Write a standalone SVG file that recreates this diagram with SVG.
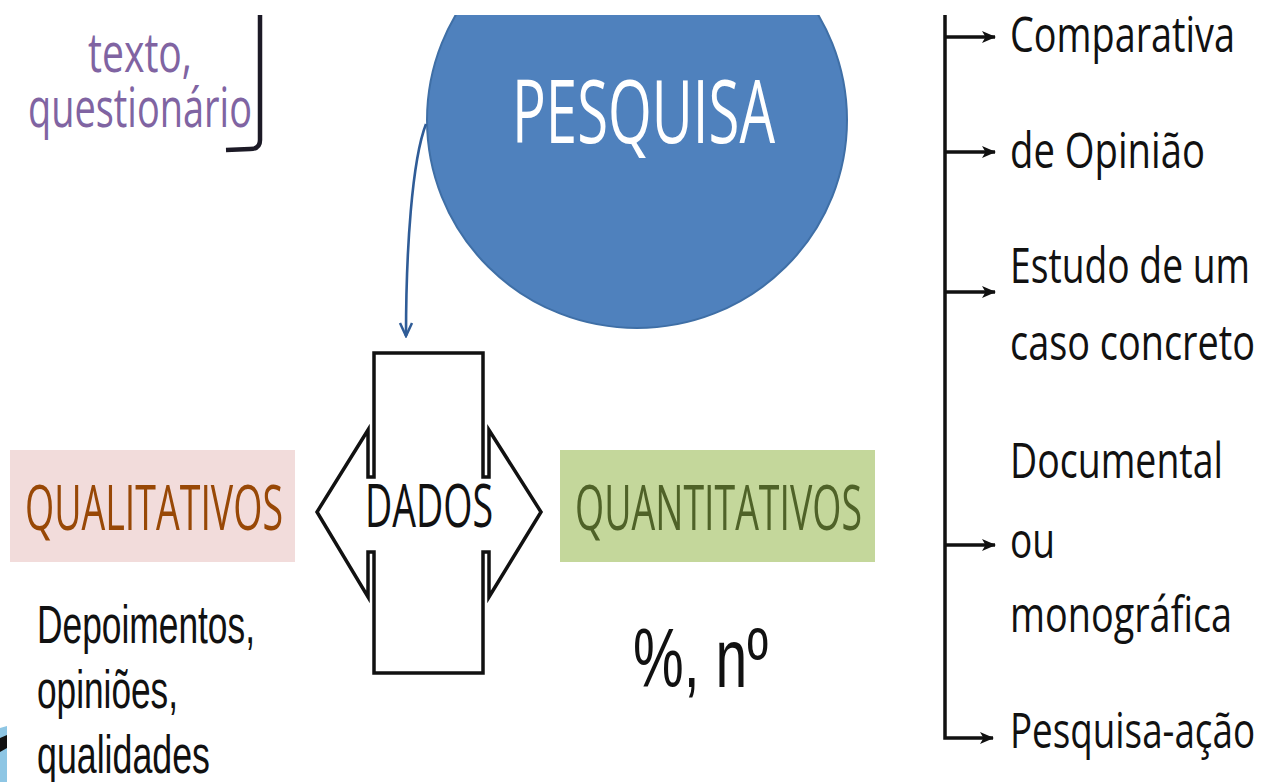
<svg xmlns="http://www.w3.org/2000/svg" width="1268" height="782" viewBox="0 0 1268 782">
<defs>
<style>
.cal{font-family:"Open Sans","Liberation Sans",sans-serif}
.ari{font-family:"Liberation Sans",Arial,sans-serif}
.lst{font-size:50px;fill:#111111;font-weight:500}
.conn{fill:none;stroke:#111111;stroke-width:3.5}
</style>
<clipPath id="top"><rect x="0" y="15" width="1268" height="767"/></clipPath>
<marker id="ah" viewBox="0 0 14 14" refX="13" refY="7" markerWidth="14" markerHeight="14" markerUnits="userSpaceOnUse" orient="auto">
<path d="M0,1 L14,7 L0,13 L3.5,7 Z" fill="#111111"/>
</marker>
<marker id="bh" viewBox="0 0 16 16" refX="14" refY="8" markerWidth="16" markerHeight="16" markerUnits="userSpaceOnUse" orient="auto">
<path d="M1,2 L14,8 L1,14" fill="none" stroke="#2F5C97" stroke-width="2.5"/>
</marker>
</defs>
<rect width="1268" height="782" fill="#ffffff"/>
<g id="top-left-note">
<text class="cal" x="140" y="72" font-size="54" fill="#8064A2" text-anchor="middle" textLength="104" lengthAdjust="spacingAndGlyphs">texto,</text>
<text class="cal" x="28" y="127" font-size="54" fill="#8064A2" textLength="224" lengthAdjust="spacingAndGlyphs">questionário</text>
<path d="M260,15 L260,140 Q260,149 250,149 L226,150" fill="none" stroke="#1c1a26" stroke-width="4.5"/>
</g>
<g id="pesquisa">
<ellipse cx="637" cy="120" rx="210" ry="208" fill="#4F81BD" stroke="#3F6FA6" stroke-width="2" clip-path="url(#top)"/>
<text class="cal" x="512" y="143" font-size="88" fill="#ffffff" textLength="263" lengthAdjust="spacingAndGlyphs">PESQUISA</text>
</g>
<g id="connectors">
<path d="M426,124 C412,160 406,250 406,336" fill="none" stroke="#2F5C97" stroke-width="2.6" marker-end="url(#bh)"/>
<path class="conn" d="M945,15 L945,738 L993,738" marker-end="url(#ah)"/>
<line class="conn" x1="945" y1="37" x2="995" y2="37" marker-end="url(#ah)"/>
<line class="conn" x1="945" y1="152" x2="995" y2="152" marker-end="url(#ah)"/>
<line class="conn" x1="945" y1="292" x2="995" y2="292" marker-end="url(#ah)"/>
<line class="conn" x1="945" y1="545" x2="995" y2="545" marker-end="url(#ah)"/>
</g>
<g id="tipos">
<text class="cal lst" x="1010" y="52" textLength="225" lengthAdjust="spacingAndGlyphs">Comparativa</text>
<text class="cal lst" x="1010" y="168" textLength="195" lengthAdjust="spacingAndGlyphs">de Opinião</text>
<text class="cal lst" x="1010" y="283" textLength="240" lengthAdjust="spacingAndGlyphs">Estudo de um</text>
<text class="cal lst" x="1010" y="360" textLength="245" lengthAdjust="spacingAndGlyphs">caso concreto</text>
<text class="cal lst" x="1010" y="478" textLength="213" lengthAdjust="spacingAndGlyphs">Documental</text>
<text class="cal lst" x="1010" y="558" textLength="45" lengthAdjust="spacingAndGlyphs">ou</text>
<text class="cal lst" x="1010" y="632" textLength="222" lengthAdjust="spacingAndGlyphs">monográfica</text>
<text class="cal lst" x="1010" y="748" textLength="245" lengthAdjust="spacingAndGlyphs">Pesquisa-ação</text>
</g>
<g id="dados">
<path d="M374,353 L483,353 L483,477 L489,477 L489,430 L541,512 L489,597 L489,552 L483,552 L483,673 L374,673 L374,552 L368,552 L368,597 L317,512 L368,430 L368,477 L374,477 Z" fill="#ffffff" stroke="#111111" stroke-width="3.5" stroke-linejoin="miter"/>
<text class="cal" x="429" y="527" font-size="60" fill="#111111" text-anchor="middle" textLength="128" lengthAdjust="spacingAndGlyphs">DADOS</text>
</g>
<g id="qualitativos">
<rect x="10" y="450" width="285" height="112" fill="#F2DCDB"/>
<text class="cal" x="25" y="530" font-size="63" fill="#984806" textLength="258" lengthAdjust="spacingAndGlyphs">QUALITATIVOS</text>
</g>
<g id="quantitativos">
<rect x="560" y="450" width="315" height="112" fill="#C4D79B"/>
<text class="cal" x="575" y="530" font-size="63" fill="#4F6228" textLength="287" lengthAdjust="spacingAndGlyphs">QUANTITATIVOS</text>
</g>
<g id="qualitativos-exemplos">
<text class="ari" x="37" y="643" font-size="53" fill="#111111" textLength="218" lengthAdjust="spacingAndGlyphs">Depoimentos,</text>
<text class="ari" x="37" y="708" font-size="53" fill="#111111" textLength="141" lengthAdjust="spacingAndGlyphs">opiniões,</text>
<text class="ari" x="37" y="773" font-size="53" fill="#111111" textLength="173" lengthAdjust="spacingAndGlyphs">qualidades</text>
</g>
<g id="quantitativos-exemplos">
<text class="ari" x="633" y="687" font-size="84" fill="#111111" textLength="135" lengthAdjust="spacingAndGlyphs">%, nº</text>
</g>
<g id="corner-fragment">
<polygon points="0,728 7,726 7,782 0,782" fill="#8EC6E4"/>
<polygon points="0,738 7,735 7,748 0,752" fill="#111111"/>
</g>
</svg>
